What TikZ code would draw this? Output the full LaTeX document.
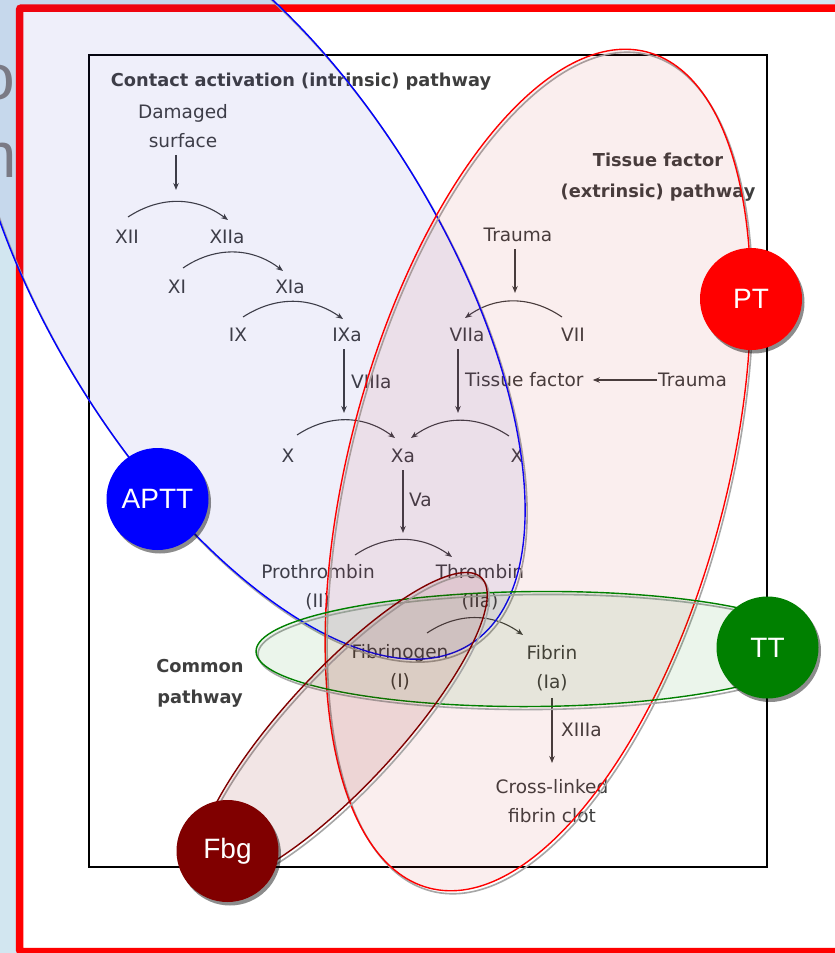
\documentclass[tikz,border=0pt]{standalone}
\usepackage{fontspec}
\setmainfont{Liberation Sans}
\newfontfamily\cascfont{DejaVu Sans}
\usetikzlibrary{arrows.meta,shadows}

\definecolor{slidebg}{RGB}{210,230,240}
\definecolor{cascgray}{RGB}{62,62,62}
\definecolor{ttgreen}{RGB}{0,128,0}
\definecolor{fbgred}{RGB}{128,0,0}
\definecolor{titlegray}{RGB}{128,128,128}
\definecolor{apttfill}{RGB}{60,60,200}
\definecolor{ptfill}{RGB}{200,40,40}

\tikzset{
  lbl/.style={font=\cascfont\fontsize{18.5}{29}\selectfont, text=cascgray, inner sep=1pt, align=center},
  hdr/.style={lbl, font=\cascfont\bfseries\fontsize{17.8}{31}\selectfont},
  arr/.style={-{Stealth[length=7pt,width=5.5pt]}, draw=cascgray, line width=1.1pt},
  varr/.style={arr, shorten <=6pt},
  test/.style={circle, minimum size=102pt, inner sep=0pt, text=white, font=\fontsize{28}{28}\selectfont,
    drop shadow={shadow xshift=2.5pt, shadow yshift=-3.5pt, opacity=0.45, fill=black}},
  ring/.style={line width=1.4pt, fill opacity=0.08},
  ringshadow/.style={draw=gray!70, line width=1.6pt},
  titlebit/.style={font=\fontsize{64}{64}\selectfont, text=titlegray, anchor=base east, inner sep=0pt}
}

\begin{document}
\begin{tikzpicture}[x=1pt, y=-1pt]
  \useasboundingbox (0,0) rectangle (835,953);
  \clip (0,0) rectangle (835,953);

  % slide behind
  \fill[slidebg] (0,0) rectangle (835,953);
  \node[titlebit] (tl1) at (15,99) {o};
  \node[titlebit] (tl2) at (17,177) {m};

  % frame
  \draw[red, fill=white, line width=7.5pt, rounded corners=2pt] (19.5,8) rectangle (870,951.5);

  % cascade picture
  \draw[line width=1.4pt] (89,55) rectangle (767,867);
  \node[hdr] (intr) at (301,82) {Contact activation (intrinsic) pathway};
  \node[hdr] (extr) at (658,177) {Tissue factor\\(extrinsic) pathway};
  \node[hdr] (cmn) at (200,683) {Common\\pathway};

  \node[lbl] (dmg) at (183,126) {Damaged\\surface};
  \node[lbl] (xii) at (127,237) {XII};
  \node[lbl] (xiia) at (227,237) {XIIa};
  \node[lbl] (xi) at (177,287) {XI};
  \node[lbl] (xia) at (290,287) {XIa};
  \node[lbl] (ix) at (238,335) {IX};
  \node[lbl] (ixa) at (347,335) {IXa};
  \node[lbl] (trauma) at (518,235) {Trauma};
  \node[lbl] (viia) at (467,335) {VIIa};
  \node[lbl] (vii) at (573,335) {VII};
  \node[lbl, anchor=west] (viiia) at (350,382) {VIIIa};
  \node[lbl, anchor=west] (tf) at (464,380) {Tissue factor};
  \node[lbl, anchor=west] (trauma2) at (657,380) {Trauma};
  \node[lbl] (x1) at (288,456) {X};
  \node[lbl] (xa) at (403,456) {Xa};
  \node[lbl] (x2) at (517,456) {X};
  \node[lbl, anchor=west] (va) at (408,500) {Va};
  \node[lbl] (pro) at (318,587) {Prothrombin\\(II)};
  \node[lbl] (thr) at (480,587) {Thrombin\\(IIa)};
  \node[lbl] (fbgn) at (400,667) {Fibrinogen\\(I)};
  \node[lbl] (fbrn) at (552,668) {Fibrin\\(Ia)};
  \node[lbl, anchor=west] (xiiia) at (560,730) {XIIIa};
  \node[lbl] (clot) at (552,801) {Cross-linked\\fibrin clot};

  \coordinate (dmgtip) at (176,190);
  \coordinate (tratip) at (515,293);
  \coordinate (ixtip) at (344,413);
  \coordinate (viitip) at (458,413);
  \coordinate (xatip) at (403,533);
  \coordinate (fbtip) at (552,763);

  \draw[varr] (dmg.south -| dmgtip) -- (dmgtip);
  \draw[arr] ([shift={(1,-20)}]xii.center) to[bend left=35] ([shift={(1,-17)}]xiia.center);
  \draw[arr] ([shift={(6,-19)}]xi.center) to[bend left=36] ([shift={(-7,-16)}]xia.center);
  \draw[arr] ([shift={(5,-18)}]ix.center) to[bend left=34] ([shift={(-4,-16)}]ixa.center);
  \draw[varr] (trauma.south -| tratip) -- (tratip);
  \draw[arr] ([shift={(-11,-18)}]vii.center) to[bend right=35] ([shift={(-2,-17)}]viia.center);
  \draw[arr, shorten >=8pt] (trauma2.west) -- (tf.east);
  \draw[varr] (ixa.south -| ixtip) -- (ixtip);
  \draw[varr] (viia.south -| viitip) -- (viitip);
  \draw[arr] ([shift={(9,-21)}]x1.center) to[bend left=35] ([shift={(-8,-18)}]xa.center);
  \draw[arr] ([shift={(-8,-20)}]x2.center) to[bend right=35] ([shift={(8,-18)}]xa.center);
  \draw[varr] (xa.south -| xatip) -- (xatip);
  \draw[arr] ([shift={(37,-32)}]pro.center) to[bend left=35] ([shift={(-28,-30)}]thr.center);
  \draw[arr] ([shift={(27,-34)}]fbgn.center) to[bend left=35] ([shift={(-29,-33)}]fbrn.center);
  \draw[varr] (fbrn.south) -- (fbtip);

  % APTT oval
  \draw[ringshadow, shift={(247,281)}, rotate=-58.6] (0,0) ellipse [x radius=430pt, y radius=197pt];
  \draw[ring, draw=blue, fill=apttfill, shift={(245,278)}, rotate=-58.6] (0,0) ellipse [x radius=430pt, y radius=197pt];

  % PT oval
  \draw[ringshadow, shift={(540,473)}, rotate=75.4] (0,0) ellipse [x radius=432pt, y radius=189pt];
  \draw[ring, draw=red, fill=ptfill, shift={(538,470)}, rotate=75.4] (0,0) ellipse [x radius=432pt, y radius=189pt];

  % TT oval
  \draw[ringshadow, shift={(537,652)}, rotate=0.5] (0,0) ellipse [x radius=279pt, y radius=57.5pt];
  \draw[ring, draw=ttgreen, fill=ttgreen, shift={(535,649)}, rotate=0.5] (0,0) ellipse [x radius=279pt, y radius=57.5pt];

  % Fbg oval
  \draw[ringshadow, shift={(344,731)}, rotate=47.3] (0,0) ellipse [x radius=205pt, y radius=57pt];
  \draw[ring, draw=fbgred, fill=fbgred, fill opacity=0.1, shift={(342,728)}, rotate=47.3] (0,0) ellipse [x radius=205pt, y radius=57pt];

  % tests
  \node[test, fill=blue] (aptt) at (157.5,499) {APTT};
  \node[test, fill=red] (pt) at (751,299) {PT};
  \node[test, fill=ttgreen] (tt) at (767.5,647.5) {TT};
  \node[test, fill=fbgred] (fbg) at (227.5,851) {Fbg};
\end{tikzpicture}
\end{document}
